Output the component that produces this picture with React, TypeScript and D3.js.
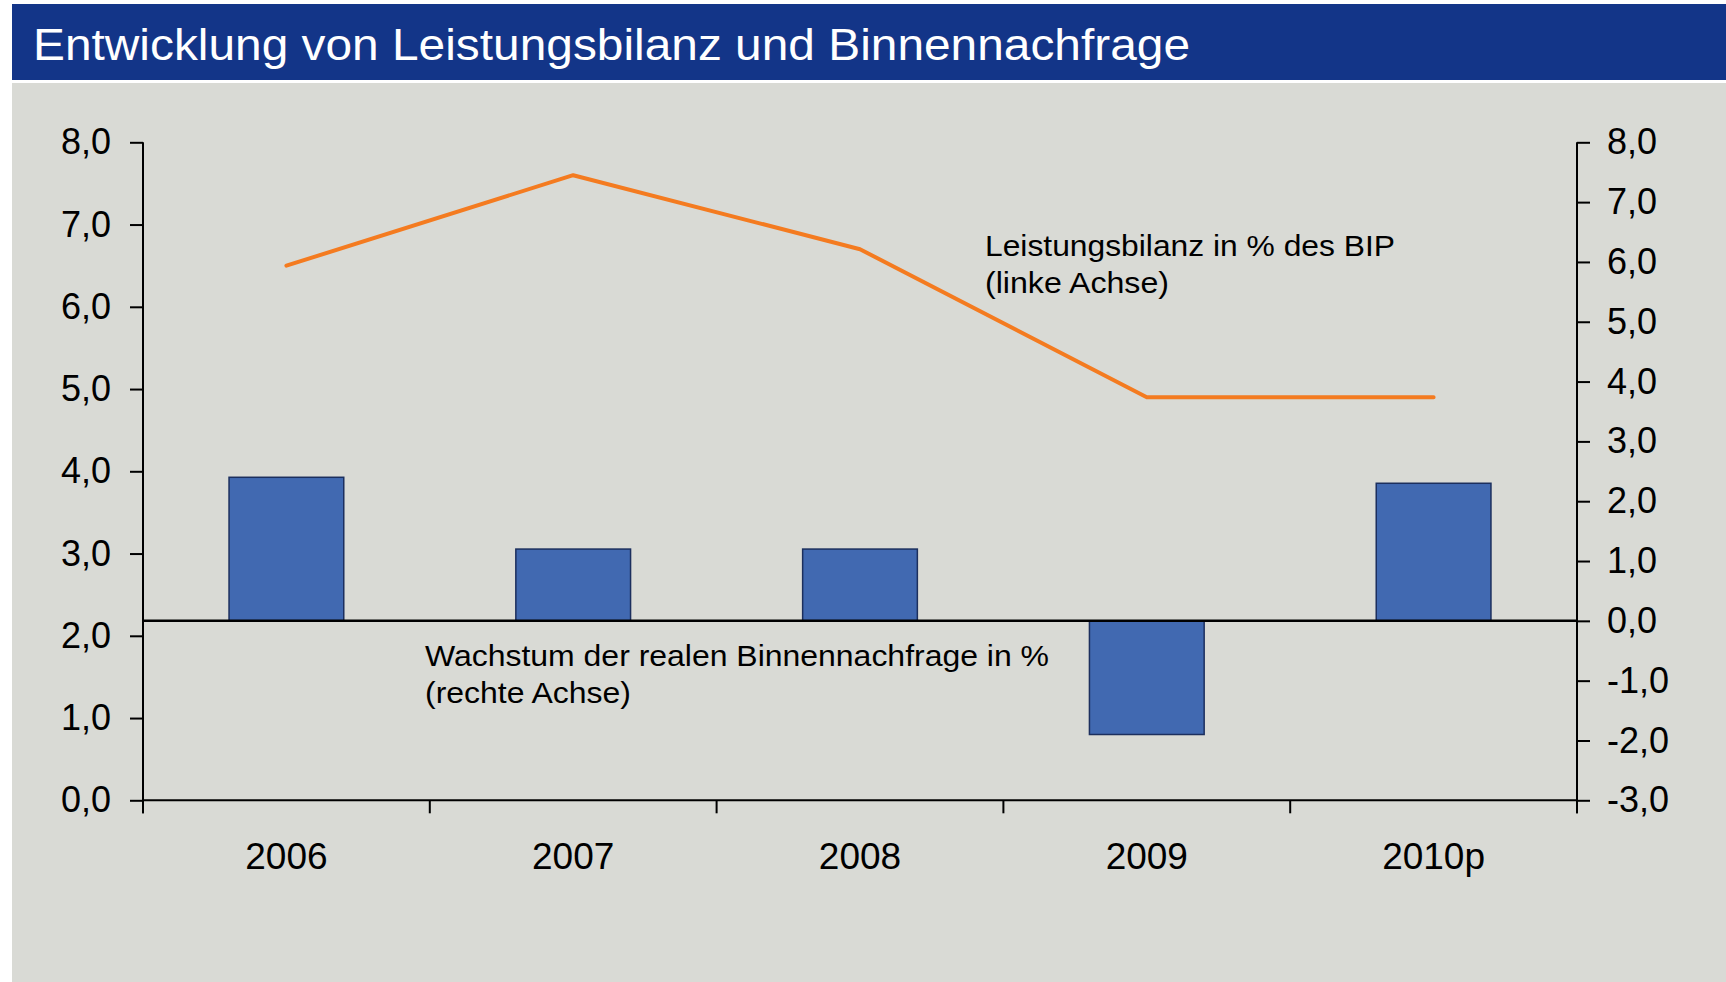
import * as d3 from "d3";
import React, { useRef, useEffect } from "react";

// Werte
const years = ["2006", "2007", "2008", "2009", "2010p"];
const demandGrowth = [2.4, 1.2, 1.2, -1.9, 2.3]; // rechte Achse, Balken
const currentAccount = [6.5, 7.6, 6.7, 4.9, 4.9]; // linke Achse, Linie
const leftTicks = [0, 1, 2, 3, 4, 5, 6, 7, 8];
const rightTicks = [-3, -2, -1, 0, 1, 2, 3, 4, 5, 6, 7, 8];

const title = "Entwicklung von Leistungsbilanz und Binnennachfrage";
const lineLabel = ["Leistungsbilanz in % des BIP", "(linke Achse)"];
const barLabel = ["Wachstum der realen Binnennachfrage in %", "(rechte Achse)"];

export default function App() {
  const svgRef = useRef<SVGSVGElement | null>(null);
  const width = 1726;
  const height = 982;
  const plotLeft = 143;
  const plotRight = 1577;
  const plotTop = 142.3;
  const plotBottom = 800.3;
  const tickLen = 13;
  const font = "'Liberation Sans', Arial, Helvetica, sans-serif";

  useEffect(() => {
    const svg = d3.select(svgRef.current);
    svg.selectAll("*").remove();

    const de = d3.formatLocale({
      decimal: ",",
      thousands: ".",
      grouping: [3],
      currency: ["", " €"],
      minus: "-",
    });
    const fmt = de.format(".1f");

    // backgrounds
    svg.append("rect")
      .attr("x", 0).attr("y", 0).attr("width", width).attr("height", height)
      .attr("fill", "#ffffff");
    svg.append("rect")
      .attr("x", 12).attr("y", 4).attr("width", width - 12).attr("height", 76)
      .attr("fill", "#133588");
    svg.append("rect")
      .attr("x", 12).attr("y", 83).attr("width", width - 12).attr("height", height - 83)
      .attr("fill", "#D9DAD5");

    svg.append("text")
      .text(title)
      .attr("x", 33)
      .attr("y", 60)
      .attr("textLength", 1157)
      .attr("lengthAdjust", "spacingAndGlyphs")
      .style("font-family", font)
      .style("font-size", "44px")
      .style("fill", "#ffffff");

    // scales
    const x = d3.scaleBand<string>()
      .domain(years)
      .range([plotLeft, plotRight])
      .paddingInner(0)
      .paddingOuter(0);
    const yLeft = d3.scaleLinear().domain([0, 8]).range([plotBottom, plotTop]);
    const yRight = d3.scaleLinear().domain([-3, 8]).range([plotBottom, plotTop]);
    const barW = x.bandwidth() * 0.4;

    // bars
    svg.append("g")
      .selectAll("rect")
      .data(demandGrowth)
      .enter()
      .append("rect")
      .attr("x", (d, i) => (x(years[i]) as number) + x.bandwidth() / 2 - barW / 2)
      .attr("y", d => yRight(Math.max(0, d)))
      .attr("width", barW)
      .attr("height", d => Math.abs(yRight(d) - yRight(0)))
      .attr("fill", "#4169B1")
      .attr("stroke", "#1C2F5E")
      .attr("stroke-width", 1.5);

    // zero line of the right axis
    svg.append("line")
      .attr("x1", plotLeft).attr("x2", plotRight)
      .attr("y1", yRight(0)).attr("y2", yRight(0))
      .attr("stroke", "#000").attr("stroke-width", 2.5);

    // x axis line + ticks at the band edges
    svg.append("line")
      .attr("x1", plotLeft).attr("x2", plotRight)
      .attr("y1", plotBottom).attr("y2", plotBottom)
      .attr("stroke", "#000").attr("stroke-width", 2);
    const edges = years.map(y => x(y) as number).concat([plotRight]);
    svg.append("g")
      .selectAll("line")
      .data(edges)
      .enter()
      .append("line")
      .attr("x1", d => d).attr("x2", d => d)
      .attr("y1", plotBottom).attr("y2", plotBottom + tickLen)
      .attr("stroke", "#000").attr("stroke-width", 2);

    svg.append("g")
      .selectAll("text")
      .data(years)
      .enter()
      .append("text")
      .text(d => d)
      .attr("x", d => (x(d) as number) + x.bandwidth() / 2)
      .attr("y", 869)
      .attr("text-anchor", "middle")
      .style("font-family", font)
      .style("font-size", "37px")
      .style("fill", "#000");

    // left axis
    const leftAxis = d3.axisLeft(yLeft)
      .tickValues(leftTicks)
      .tickFormat(d => fmt(d as number))
      .tickSize(tickLen)
      .tickPadding(19)
      .tickSizeOuter(0);
    const gl = svg.append("g").attr("transform", `translate(${plotLeft},0)`).call(leftAxis);
    gl.select(".domain").remove();
    gl.selectAll(".tick line").attr("stroke", "#000").attr("stroke-width", 2);
    gl.selectAll(".tick text")
      .style("font-family", font)
      .style("font-size", "36px")
      .attr("fill", "#000");
    svg.append("line")
      .attr("x1", plotLeft).attr("x2", plotLeft)
      .attr("y1", plotTop).attr("y2", plotBottom + tickLen)
      .attr("stroke", "#000").attr("stroke-width", 2);

    // right axis
    const rightAxis = d3.axisRight(yRight)
      .tickValues(rightTicks)
      .tickFormat(d => fmt(d as number))
      .tickSize(tickLen)
      .tickPadding(17)
      .tickSizeOuter(0);
    const gr = svg.append("g").attr("transform", `translate(${plotRight},0)`).call(rightAxis);
    gr.select(".domain").remove();
    gr.selectAll(".tick line").attr("stroke", "#000").attr("stroke-width", 2);
    gr.selectAll(".tick text")
      .style("font-family", font)
      .style("font-size", "36px")
      .attr("fill", "#000");
    svg.append("line")
      .attr("x1", plotRight).attr("x2", plotRight)
      .attr("y1", plotTop).attr("y2", plotBottom + tickLen)
      .attr("stroke", "#000").attr("stroke-width", 2);

    // current account line
    const line = d3.line<number>()
      .x((d, i) => (x(years[i]) as number) + x.bandwidth() / 2)
      .y(d => yLeft(d));
    svg.append("path")
      .datum(currentAccount)
      .attr("d", line)
      .attr("fill", "none")
      .attr("stroke", "#F47B20")
      .attr("stroke-width", 4)
      .attr("stroke-linejoin", "round")
      .attr("stroke-linecap", "round");

    // annotations
    const lineLens = [410, 184];
    lineLabel.forEach((t, i) => {
      svg.append("text")
        .text(t)
        .attr("x", 985)
        .attr("y", 256 + i * 37)
        .attr("textLength", lineLens[i])
        .attr("lengthAdjust", "spacingAndGlyphs")
        .style("font-family", font)
        .style("font-size", "30px")
        .style("fill", "#000");
    });
    const barLens = [624, 206];
    barLabel.forEach((t, i) => {
      svg.append("text")
        .text(t)
        .attr("x", 425)
        .attr("y", 666 + i * 37)
        .attr("textLength", barLens[i])
        .attr("lengthAdjust", "spacingAndGlyphs")
        .style("font-family", font)
        .style("font-size", "30px")
        .style("fill", "#000");
    });
  }, []);

  return (
    <div style={{ position: "absolute", left: 0, top: 0 }}>
      <svg ref={svgRef} width={width} height={height} style={{ display: "block" }}></svg>
    </div>
  );
}
